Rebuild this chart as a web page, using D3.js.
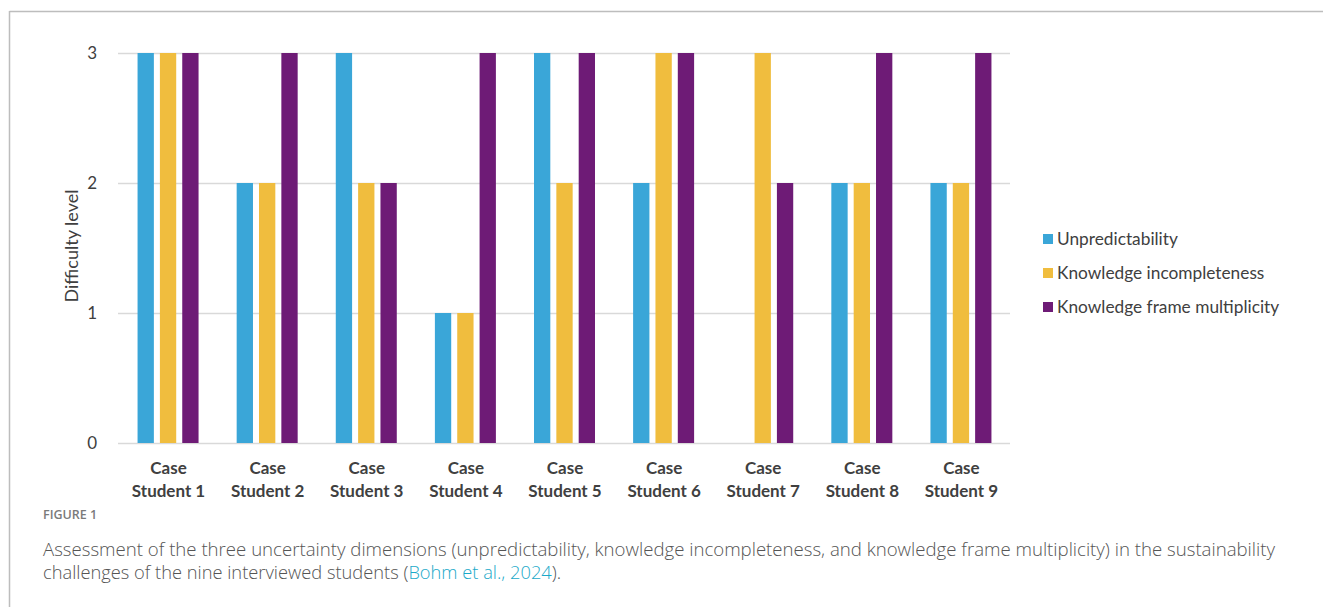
<!DOCTYPE html>
<html><head><meta charset="utf-8">
<script src="https://cdn.jsdelivr.net/npm/d3@7"></script>
<style>
html,body{margin:0;padding:0;background:#fff;}
svg{display:block;}
</style></head>
<body>
<svg id="chart" width="1323" height="607"></svg>
<script>
const categories = ["Case Student 1","Case Student 2","Case Student 3","Case Student 4","Case Student 5","Case Student 6","Case Student 7","Case Student 8","Case Student 9"];
const seriesNames = ["Unpredictability","Knowledge incompleteness","Knowledge frame multiplicity"];
const unpredictability = [3,2,3,1,3,2,0,2,2];
const knowledgeIncompleteness = [3,2,2,1,2,3,3,2,2];
const frameMultiplicity = [3,3,2,3,3,3,2,3,3];
const yTicks = [0,1,2,3];
const colors = ["#3AA6D8","#F0BD3E","#6E1B76"];

const seriesValues = [unpredictability, knowledgeIncompleteness, frameMultiplicity];
const svg = d3.select("#chart");
const FONT = "Lato, 'Open Sans', sans-serif";

// frame
svg.append("line").attr("x1",9.5).attr("x2",1323).attr("y1",11.5).attr("y2",11.5).attr("stroke","#bdbdbd").attr("stroke-width",1.5);
svg.append("line").attr("x1",9.5).attr("x2",9.5).attr("y1",11).attr("y2",607).attr("stroke","#bdbdbd").attr("stroke-width",1.5);

const plot = {left:118, right:1010, top:53, bottom:443};
const x = d3.scaleBand().domain(categories).range([plot.left, plot.right]).paddingInner(0).paddingOuter(0);
const y = d3.scaleLinear().domain([0,3]).range([plot.bottom, plot.top]);
const inner = d3.scaleBand().domain(d3.range(3)).range([0,61]).paddingInner(0.27);

// gridlines
svg.append("g").selectAll("line").data(yTicks).join("line")
  .attr("x1",plot.left).attr("x2",plot.right)
  .attr("y1",d=>y(d)+0.5).attr("y2",d=>y(d)+0.5)
  .attr("stroke","#d9d9d9").attr("stroke-width",1.5);

// y axis labels
const yAxis = d3.axisLeft(y).tickValues(yTicks).tickSize(0).tickPadding(0).tickFormat(d3.format("d"));
const yg = svg.append("g").attr("transform",`translate(97,0)`).call(yAxis);
yg.select(".domain").remove();
yg.selectAll("text").attr("font-family",FONT).attr("font-size",17).attr("fill","#404040");

svg.append("text").attr("transform","translate(78,246) rotate(-90)")
  .attr("text-anchor","middle").attr("font-family",FONT).attr("font-size",18).attr("fill","#404040")
  .text("Difficulty level");

// bars
const groups = svg.append("g").selectAll("g").data(categories).join("g")
  .attr("transform",d=>`translate(${x(d)+x.bandwidth()/2-30},0)`);
groups.selectAll("rect").data((d,i)=>seriesValues.map((s,k)=>({k, v:s[i]}))).join("rect")
  .attr("x",d=>inner(d.k)).attr("width",inner.bandwidth())
  .attr("y",d=>y(d.v)).attr("height",d=>y(0)-y(d.v))
  .attr("fill",d=>colors[d.k]);

// x labels
const xl = svg.append("g").selectAll("text").data(categories).join("text")
  .attr("x",d=>x(d)+x.bandwidth()/2+1).attr("text-anchor","middle")
  .attr("font-family",FONT).attr("font-weight","bold").attr("font-size",17).attr("fill","#404040");
xl.append("tspan").attr("x",d=>x(d)+x.bandwidth()/2+1).attr("y",474).text(d=>d.split(" ")[0]);
xl.append("tspan").attr("x",d=>x(d)+x.bandwidth()/2+1).attr("y",497).text(d=>d.split(" ").slice(1).join(" "));

// legend
const lg = svg.append("g").selectAll("g").data(seriesNames).join("g")
  .attr("transform",(d,i)=>`translate(1043,${239+i*34})`);
lg.append("rect").attr("x",0).attr("y",-5).attr("width",10).attr("height",10).attr("fill",(d,i)=>colors[i]);
lg.append("text").attr("x",14).attr("y",6).attr("font-family",FONT).attr("font-size",17.3).attr("fill","#404040").text(d=>d);

// caption
const CAP = "'Open Sans', Lato, sans-serif";
svg.append("text").attr("x",43).attr("y",519).attr("font-family",CAP).attr("font-weight",600).attr("font-size",12.5).attr("fill","#7a7a7a").text("FIGURE 1");
svg.append("text").attr("x",43).attr("y",556).attr("font-family",CAP).attr("font-weight",300).attr("font-size",18.3).attr("fill","#555")
  .attr("textLength",1232).attr("lengthAdjust","spacingAndGlyphs")
  .text("Assessment of the three uncertainty dimensions (unpredictability, knowledge incompleteness, and knowledge frame multiplicity) in the sustainability");
const c2 = svg.append("text").attr("x",43).attr("y",579).attr("font-family",CAP).attr("font-weight",300).attr("font-size",18.3).attr("fill","#555");
c2.append("tspan").text("challenges of the nine interviewed students (");
c2.append("tspan").attr("fill","#1aa9c9").text("Bohm et al., 2024");
c2.append("tspan").text(").");
</script>
</body></html>
